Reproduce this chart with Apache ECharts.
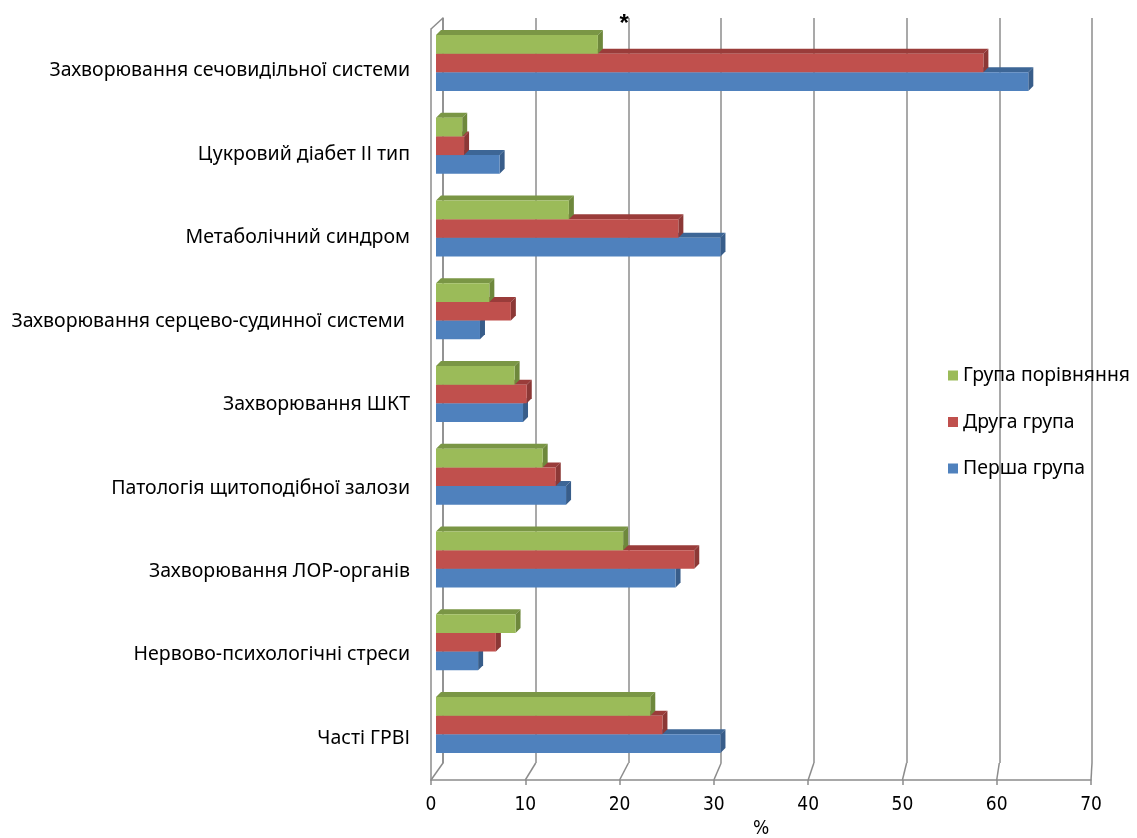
<!DOCTYPE html>
<html>
<head>
<meta charset="utf-8">
<script src="https://cdn.jsdelivr.net/npm/echarts@6/dist/echarts.min.js"></script>
<style>
  html, body { margin: 0; padding: 0; background: #fff; }
  #chart { width: 1137px; height: 838px; }
</style>
</head>
<body>
<div id="chart"></div>
<script>
// Супутня патологія за групами, %
const categories = [
  'Захворювання сечовидільної системи',
  'Цукровий діабет ІІ тип',
  'Метаболічний синдром',
  'Захворювання серцево-судинної системи ',
  'Захворювання ШКТ',
  'Патологія щитоподібної залози',
  'Захворювання ЛОР-органів',
  'Нервово-психологічні стреси',
  'Часті ГРВІ'
];
const seriesNames = ['Перша група', 'Друга група', 'Група порівняння'];
const firstGroup      = [63.3, 6.8, 30.4, 4.7, 9.3, 13.9, 25.6, 4.5, 30.4];
const secondGroup     = [58.5, 3.0, 25.9, 8.0, 9.7, 12.8, 27.6, 6.4, 24.2];
const comparisonGroup = [17.3, 2.8, 14.2, 5.7, 8.4, 11.4, 20.0, 8.5, 22.9];
const xTicks = [0, 10, 20, 30, 40, 50, 60, 70];
const xMin = 0, xMax = 70, xStep = 10;

const palette = {
  blue:  { front: '#4F81BD', top: '#3D6696', side: '#385D8A' },
  red:   { front: '#C0504D', top: '#9A3C3A', side: '#8C3836' },
  green: { front: '#9BBB59', top: '#7A9645', side: '#6E883C' }
};

const gridColor = '#8c8c8c';
const labelFont = 'Noto Sans';
const numberFont = "'DejaVu Sans Condensed', 'Liberation Sans', sans-serif";

// Three-faced box for each bar: front, top and right side
function boxSeries(name, values, slot, colors) {
  return {
    type: 'custom',
    name: name,
    xAxisIndex: 2,
    yAxisIndex: 2,
    itemStyle: { color: colors.front },
    encode: { x: 0, y: 1 },
    data: values.map((v, i) => [v, i]),
    renderItem: function (params, api) {
      const v = api.value(0), c = api.value(1);
      const p0 = api.coord([0, c]);
      const p1 = api.coord([v, c]);
      const band = api.size([0, 1])[1];
      const h = band * 0.226;
      const d = 5;
      const top = p0[1] - 1.5 * h + slot * h;
      const x0 = p0[0], x1 = p1[0];
      return {
        type: 'group',
        children: [
          { type: 'polygon', shape: { points: [[x0, top], [x0 + d, top - d], [x1 + d, top - d], [x1, top]] },
            style: { fill: colors.top } },
          { type: 'polygon', shape: { points: [[x1, top], [x1 + d, top - d], [x1 + d, top + h - d], [x1, top + h]] },
            style: { fill: colors.side } },
          { type: 'rect', shape: { x: x0, y: top, width: x1 - x0, height: h },
            style: { fill: colors.front } }
        ]
      };
    }
  };
}

const chart = echarts.init(document.getElementById('chart'), null, { renderer: 'canvas' });

const hidden = { show: false };
const option = {
  backgroundColor: '#ffffff',
  animation: false,
  grid: [
    // back wall
    { left: 443, right: 45, top: 18, bottom: 75, outerBoundsMode: 'none', containLabel: false },
    // front edge / floor axis
    { left: 431, right: 46, top: 29, bottom: 58, outerBoundsMode: 'none', containLabel: false },
    // bars
    { left: 436, right: 46, top: 21.6, bottom: 71.6, outerBoundsMode: 'none', containLabel: false }
  ],
  xAxis: [
    { gridIndex: 0, type: 'value', min: xMin, max: xMax, interval: xStep,
      axisLine: hidden, axisTick: hidden, axisLabel: hidden,
      splitLine: { show: true, lineStyle: { color: gridColor, width: 1.5 } } },
    { gridIndex: 1, type: 'value', min: xMin, max: xMax, interval: xStep,
      axisLine: { show: true, lineStyle: { color: gridColor, width: 1.5 } },
      axisTick: { show: true, length: 5, lineStyle: { color: gridColor, width: 1.5 } },
      axisLabel: { margin: 16, color: '#000', fontSize: 19, fontFamily: numberFont,
                   formatter: v => xTicks.includes(v) ? String(v) : '' },
      splitLine: hidden,
      name: '%', nameLocation: 'middle', nameGap: 40,
      nameTextStyle: { color: '#000', fontSize: 19, fontFamily: numberFont } },
    { gridIndex: 2, type: 'value', min: xMin, max: xMax, show: false }
  ],
  yAxis: [
    { gridIndex: 0, type: 'value', min: 0, max: 1,
      axisLine: { show: true, lineStyle: { color: gridColor, width: 1.5 } },
      axisTick: hidden, axisLabel: hidden, splitLine: hidden },
    { gridIndex: 1, type: 'category', inverse: true, data: categories,
      axisLine: { show: true, lineStyle: { color: gridColor, width: 1.5 } },
      axisTick: hidden,
      axisLabel: { margin: 21, color: '#000', fontSize: 19.5, fontFamily: labelFont } },
    { gridIndex: 2, type: 'category', inverse: true, data: categories, show: false }
  ],
  legend: {
    orient: 'vertical',
    left: 943,
    top: 361,
    itemWidth: 10,
    itemHeight: 10,
    itemGap: 27.5,
    icon: 'rect',
    data: [seriesNames[2], seriesNames[1], seriesNames[0]],
    textStyle: { color: '#000', fontSize: 19.4, fontFamily: labelFont }
  },
  series: [
    boxSeries(seriesNames[0], firstGroup, 2, palette.blue),
    boxSeries(seriesNames[1], secondGroup, 1, palette.red),
    boxSeries(seriesNames[2], comparisonGroup, 0, palette.green)
  ]
};

chart.setOption(option);

// Floor lines joining the front axis ticks to the back wall, plus the wall's top corner
const backBottom = 838 - 75, frontBottom = 838 - 58;
const extras = xTicks.map(v => {
  const xf = chart.convertToPixel({ xAxisIndex: 1 }, v);
  const xb = chart.convertToPixel({ xAxisIndex: 0 }, v);
  return { type: 'line', shape: { x1: xf, y1: frontBottom, x2: xb, y2: backBottom },
           style: { stroke: gridColor, lineWidth: 1.5 }, z: 1 };
});
extras.push({ type: 'line', shape: { x1: 431, y1: 29, x2: 443, y2: 18 },
              style: { stroke: gridColor, lineWidth: 1.5 }, z: 1 });
// significance mark above the comparison group's first bar
const starX = chart.convertToPixel({ xAxisIndex: 2 }, 20.1);
extras.push({ type: 'text', x: starX, y: 24,
              style: { text: '*', fill: '#000', font: 'bold 24px Liberation Sans', align: 'center', verticalAlign: 'middle' },
              z: 10 });
chart.setOption({ graphic: extras });
</script>
</body>
</html>
